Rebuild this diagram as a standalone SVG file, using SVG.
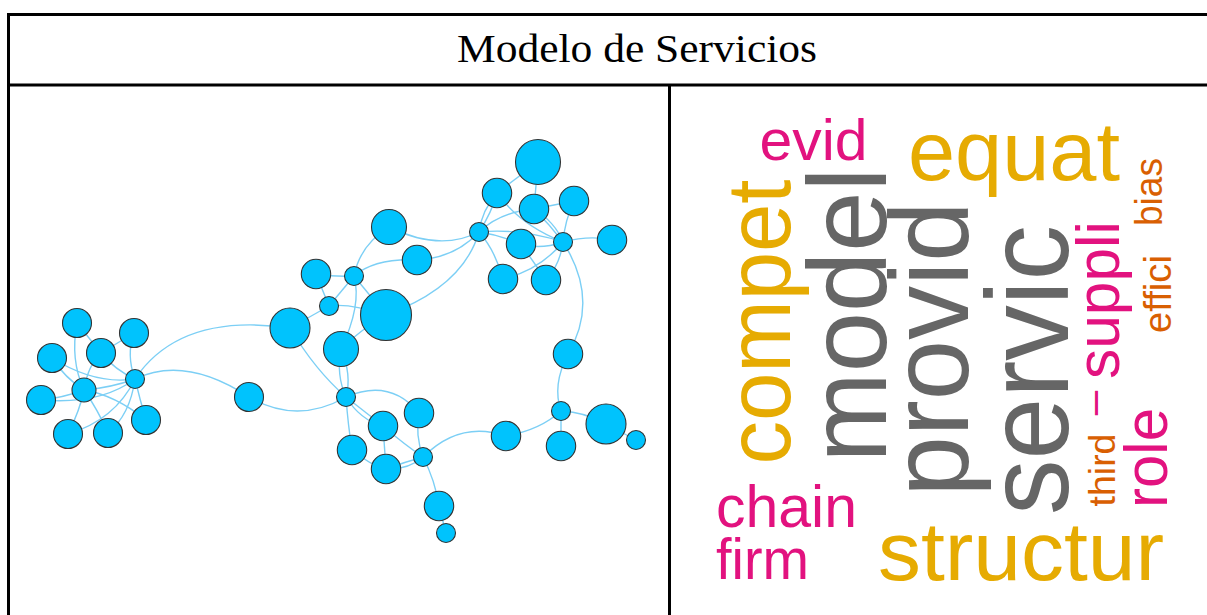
<svg xmlns="http://www.w3.org/2000/svg" width="1207" height="615" viewBox="0 0 1207 615">
<style>
.frame{stroke:#000;stroke-width:3;fill:none}
.edge{fill:none;stroke:#7ccff5;stroke-width:1.4}
.node{fill:#00c3fd;stroke:#333;stroke-width:1.1}
.w{font-family:"Liberation Sans",Arial,sans-serif}
.gray{fill:#666666}
.gold{fill:#E6AB02}
.mag{fill:#E2127F}
.org{fill:#D95F02}
</style>
<rect x="0" y="0" width="1207" height="615" fill="#fff"/>
<g id="table">
<line class="frame" x1="7" y1="14.5" x2="1207" y2="14.5"/>
<line class="frame" x1="8.5" y1="13" x2="8.5" y2="615"/>
<line class="frame" x1="7" y1="85" x2="1207" y2="85"/>
<line class="frame" x1="669.5" y1="85" x2="669.5" y2="615"/>
</g>
<text id="title" x="637" y="62" text-anchor="middle" font-family="Liberation Serif, serif" font-size="40" textLength="360" lengthAdjust="spacingAndGlyphs" fill="#000">Modelo de Servicios</text>
<g id="connectors">
<path class="edge" d="M77,323 Q70,360 84,390"/>
<path class="edge" d="M77,323 L101,353"/>
<path class="edge" d="M134,333 Q126,355 135,379"/>
<path class="edge" d="M134,333 L101,353"/>
<path class="edge" d="M52,358 Q95,385 135,379"/>
<path class="edge" d="M52,358 Q65,378 84,390"/>
<path class="edge" d="M101,353 Q115,370 135,379"/>
<path class="edge" d="M101,353 Q88,365 84,390"/>
<path class="edge" d="M41,400 Q100,405 135,379"/>
<path class="edge" d="M41,400 Q62,398 84,390"/>
<path class="edge" d="M68,434 Q80,410 84,390"/>
<path class="edge" d="M68,434 Q115,420 135,379"/>
<path class="edge" d="M108,433 Q130,415 135,379"/>
<path class="edge" d="M108,433 Q98,410 84,390"/>
<path class="edge" d="M146,420 Q140,400 135,379"/>
<path class="edge" d="M146,420 Q115,395 84,390"/>
<path class="edge" d="M84,390 Q110,388 135,379"/>
<path class="edge" d="M135,379 Q180,312 290,328"/>
<path class="edge" d="M135,379 Q185,355 249,397"/>
<path class="edge" d="M249,397 Q297,425 346,397"/>
<path class="edge" d="M290,328 L329,306"/>
<path class="edge" d="M290,328 Q315,370 346,397"/>
<path class="edge" d="M329,306 L316,274"/>
<path class="edge" d="M329,306 L354,276"/>
<path class="edge" d="M329,306 Q350,303 386,315"/>
<path class="edge" d="M316,274 Q335,277 354,276"/>
<path class="edge" d="M354,276 Q360,245 389,227"/>
<path class="edge" d="M354,276 Q375,258 417,260"/>
<path class="edge" d="M354,276 L386,315"/>
<path class="edge" d="M354,276 Q362,305 341,349"/>
<path class="edge" d="M386,315 Q360,330 341,349"/>
<path class="edge" d="M389,227 Q440,252 479,232"/>
<path class="edge" d="M417,260 Q455,258 479,232"/>
<path class="edge" d="M386,315 Q463,287 479,232"/>
<path class="edge" d="M341,349 Q336,375 346,397"/>
<path class="edge" d="M341,349 Q352,375 346,397"/>
<path class="edge" d="M479,232 Q482,210 497,193"/>
<path class="edge" d="M479,232 Q492,212 497,193"/>
<path class="edge" d="M497,193 L538,162"/>
<path class="edge" d="M538,162 L534,209"/>
<path class="edge" d="M479,232 Q500,212 534,209"/>
<path class="edge" d="M534,209 L574,201"/>
<path class="edge" d="M479,232 Q500,235 521,244"/>
<path class="edge" d="M479,232 Q520,228 563,242"/>
<path class="edge" d="M479,232 Q495,250 503,279"/>
<path class="edge" d="M497,193 Q520,225 563,242"/>
<path class="edge" d="M534,209 Q550,225 563,242"/>
<path class="edge" d="M534,209 Q555,222 563,242"/>
<path class="edge" d="M574,201 Q565,220 563,242"/>
<path class="edge" d="M521,244 Q540,250 563,242"/>
<path class="edge" d="M503,279 Q540,270 563,242"/>
<path class="edge" d="M546,280 Q560,265 563,242"/>
<path class="edge" d="M521,244 L546,280"/>
<path class="edge" d="M563,242 Q590,235 612,240"/>
<path class="edge" d="M563,242 Q600,300 568,354"/>
<path class="edge" d="M346,397 Q390,378 419,413"/>
<path class="edge" d="M346,397 L383,426"/>
<path class="edge" d="M346,397 Q360,420 383,426"/>
<path class="edge" d="M346,397 Q348,425 352,450"/>
<path class="edge" d="M383,426 Q405,445 423,457"/>
<path class="edge" d="M419,413 Q415,435 423,457"/>
<path class="edge" d="M383,426 L386,469"/>
<path class="edge" d="M352,450 Q370,465 386,469"/>
<path class="edge" d="M386,469 Q405,462 423,457"/>
<path class="edge" d="M386,469 Q408,470 423,457"/>
<path class="edge" d="M423,457 Q435,480 439,506"/>
<path class="edge" d="M439,506 L446,533"/>
<path class="edge" d="M423,457 Q460,420 506,436"/>
<path class="edge" d="M506,436 Q540,430 561,411"/>
<path class="edge" d="M561,411 L561,446"/>
<path class="edge" d="M561,411 Q585,412 606,424"/>
<path class="edge" d="M561,411 Q552,385 568,354"/>
<path class="edge" d="M606,424 L636,440"/>
</g>
<g id="n1"><circle class="node" cx="77" cy="323" r="14.5"/></g>
<g id="n2"><circle class="node" cx="134" cy="333" r="14.5"/></g>
<g id="n3"><circle class="node" cx="52" cy="358" r="14.5"/></g>
<g id="n4"><circle class="node" cx="101" cy="353" r="14.5"/></g>
<g id="n5"><circle class="node" cx="84" cy="390" r="12"/></g>
<g id="n6"><circle class="node" cx="135" cy="379" r="9.5"/></g>
<g id="n7"><circle class="node" cx="41" cy="400" r="14.5"/></g>
<g id="n8"><circle class="node" cx="68" cy="434" r="14.5"/></g>
<g id="n9"><circle class="node" cx="108" cy="433" r="14.5"/></g>
<g id="n10"><circle class="node" cx="146" cy="420" r="14.5"/></g>
<g id="n11"><circle class="node" cx="249" cy="397" r="14.5"/></g>
<g id="n12"><circle class="node" cx="290" cy="328" r="20"/></g>
<g id="n13"><circle class="node" cx="329" cy="306" r="9.5"/></g>
<g id="n14"><circle class="node" cx="316" cy="274" r="14.7"/></g>
<g id="n15"><circle class="node" cx="354" cy="276" r="9.5"/></g>
<g id="n16"><circle class="node" cx="386" cy="315" r="25.5"/></g>
<g id="n17"><circle class="node" cx="389" cy="227" r="17.5"/></g>
<g id="n18"><circle class="node" cx="417" cy="260" r="14.7"/></g>
<g id="n19"><circle class="node" cx="341" cy="349" r="17.5"/></g>
<g id="n20"><circle class="node" cx="479" cy="232" r="9.5"/></g>
<g id="n21"><circle class="node" cx="538" cy="162" r="22.5"/></g>
<g id="n22"><circle class="node" cx="497" cy="193" r="14.7"/></g>
<g id="n23"><circle class="node" cx="534" cy="209" r="14.7"/></g>
<g id="n24"><circle class="node" cx="574" cy="201" r="14.7"/></g>
<g id="n25"><circle class="node" cx="521" cy="244" r="14.7"/></g>
<g id="n26"><circle class="node" cx="563" cy="242" r="9.5"/></g>
<g id="n27"><circle class="node" cx="612" cy="240" r="14.7"/></g>
<g id="n28"><circle class="node" cx="503" cy="279" r="14.7"/></g>
<g id="n29"><circle class="node" cx="546" cy="280" r="14.7"/></g>
<g id="n30"><circle class="node" cx="568" cy="354" r="14.7"/></g>
<g id="n31"><circle class="node" cx="346" cy="397" r="9.5"/></g>
<g id="n32"><circle class="node" cx="419" cy="413" r="14.7"/></g>
<g id="n33"><circle class="node" cx="383" cy="426" r="14.7"/></g>
<g id="n34"><circle class="node" cx="352" cy="450" r="14.7"/></g>
<g id="n35"><circle class="node" cx="386" cy="469" r="14.7"/></g>
<g id="n36"><circle class="node" cx="423" cy="457" r="9.5"/></g>
<g id="n37"><circle class="node" cx="439" cy="506" r="14.7"/></g>
<g id="n38"><circle class="node" cx="446" cy="533" r="9.5"/></g>
<g id="n39"><circle class="node" cx="506" cy="436" r="14.7"/></g>
<g id="n40"><circle class="node" cx="561" cy="411" r="9.5"/></g>
<g id="n41"><circle class="node" cx="561" cy="446" r="14.7"/></g>
<g id="n42"><circle class="node" cx="606" cy="424" r="20"/></g>
<g id="n43"><circle class="node" cx="636" cy="440" r="9.5"/></g>
<g id="wordcloud" class="w">
<text class="mag" x="813.5" y="160" font-size="58" text-anchor="middle" textLength="108" lengthAdjust="spacingAndGlyphs">evid</text>
<text class="gold" x="1014" y="180" font-size="84" text-anchor="middle" textLength="212" lengthAdjust="spacingAndGlyphs">equat</text>
<text class="gray" transform="translate(886,315) rotate(-90)" font-size="112" text-anchor="middle" textLength="295" lengthAdjust="spacingAndGlyphs">model</text>
<text class="gray" transform="translate(968,349) rotate(-90)" font-size="112" text-anchor="middle" textLength="295" lengthAdjust="spacingAndGlyphs">provid</text>
<text class="gray" transform="translate(1068,370) rotate(-90)" font-size="116" text-anchor="middle" textLength="290" lengthAdjust="spacingAndGlyphs">servic</text>
<text class="gold" transform="translate(790,322) rotate(-90)" font-size="90" text-anchor="middle" textLength="285" lengthAdjust="spacingAndGlyphs">compet</text>
<text class="mag" transform="translate(1119,300) rotate(-90)" font-size="62" text-anchor="middle" textLength="158" lengthAdjust="spacingAndGlyphs">suppli</text>
<text class="mag" transform="translate(1108,403) rotate(-90)" font-size="44" text-anchor="middle">–</text>
<text class="org" transform="translate(1162,192) rotate(-90)" font-size="38" text-anchor="middle" textLength="68" lengthAdjust="spacingAndGlyphs">bias</text>
<text class="org" transform="translate(1171,294) rotate(-90)" font-size="38" text-anchor="middle" textLength="78" lengthAdjust="spacingAndGlyphs">effici</text>
<text class="org" transform="translate(1115,470) rotate(-90)" font-size="37" text-anchor="middle" textLength="73" lengthAdjust="spacingAndGlyphs">third</text>
<text class="mag" transform="translate(1167,458) rotate(-90)" font-size="62" text-anchor="middle" textLength="100" lengthAdjust="spacingAndGlyphs">role</text>
<text class="mag" x="716" y="527" font-size="60" textLength="141" lengthAdjust="spacingAndGlyphs">chain</text>
<text class="mag" x="716" y="579" font-size="57" textLength="93" lengthAdjust="spacingAndGlyphs">firm</text>
<text class="gold" x="878" y="580" font-size="84" textLength="286" lengthAdjust="spacingAndGlyphs">structur</text>
</g>
</svg>
